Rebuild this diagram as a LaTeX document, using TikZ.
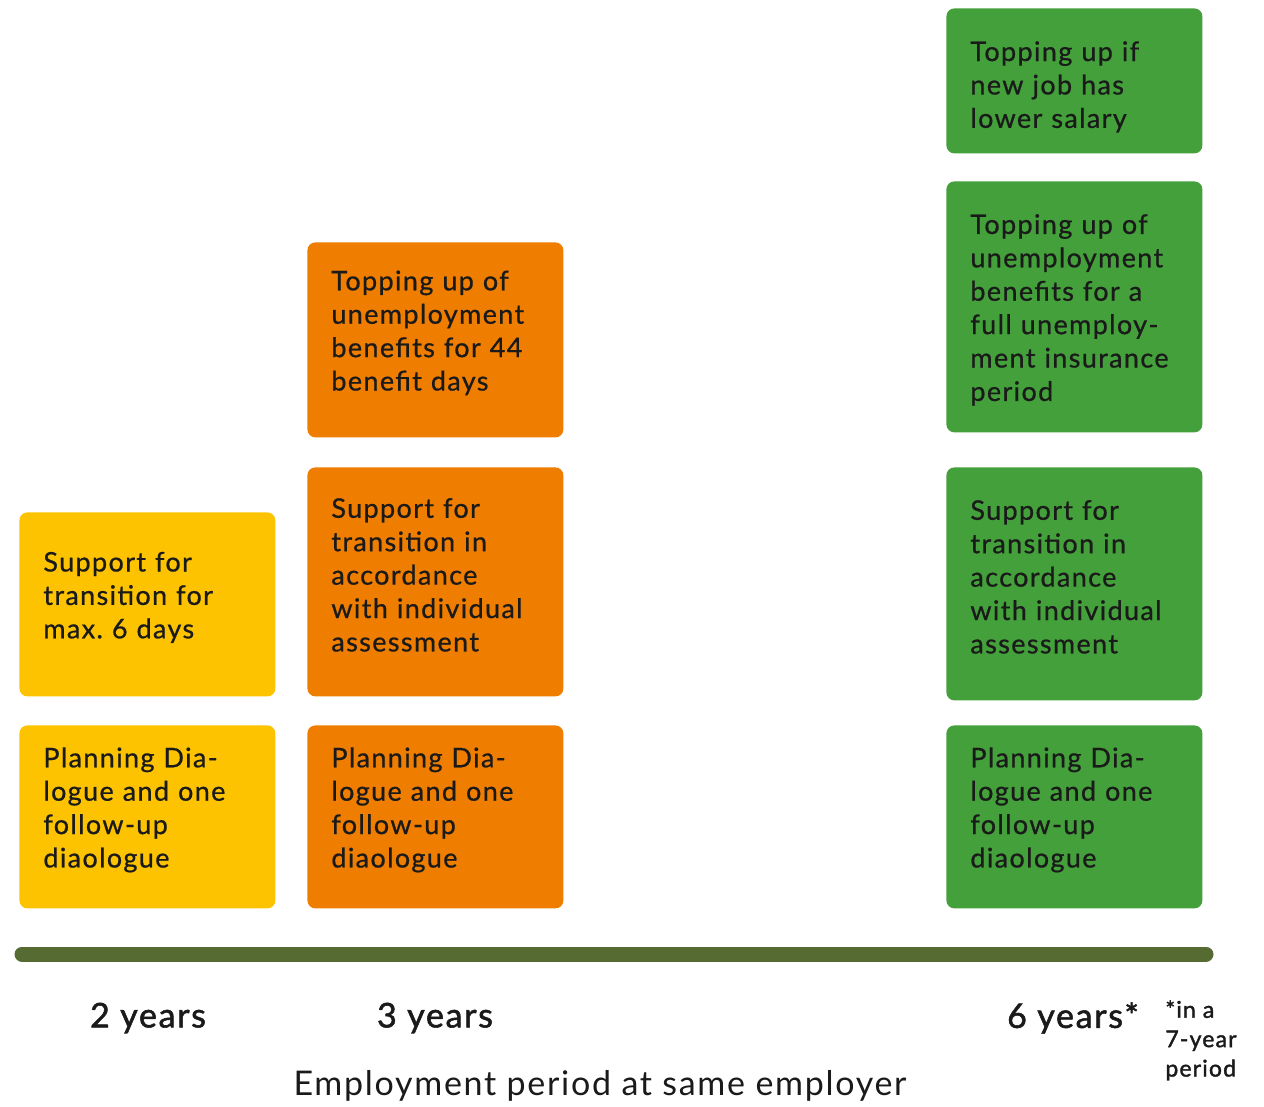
\documentclass[tikz,border=0pt]{standalone}
\usepackage{fontspec}
\setmainfont{Lato}
\newfontfamily\cellfont[FakeBold=0.7, LetterSpace=5]{Lato}
\newfontfamily\labelfont[FakeBold=1.6, LetterSpace=5]{Lato}
\newfontfamily\titlefont[LetterSpace=5]{Lato}
\usepackage{tikz}
\usepackage{xcolor}
\definecolor{sunyellow}{HTML}{FDC300}
\definecolor{deeporange}{HTML}{EF7D00}
\definecolor{leafgreen}{HTML}{43A03A}
\definecolor{barolive}{HTML}{556B31}
\definecolor{inkdark}{HTML}{1A1A1A}
\frenchspacing

\tikzset{
  padbottom/.store in=\cellpadlen, padbottom=7pt,
  cell/.style={rounded corners=4pt, anchor=north west, minimum width=128pt,
    text width=104pt, align=left, inner sep=0pt, text=inkdark,
    font=\cellfont\fontsize{13.5}{16.7}\selectfont,
    execute at end node={\par\vspace{\cellpadlen}}},
  yearlabel/.style={text=inkdark, font=\labelfont\fontsize{17}{20}\selectfont}
}

\begin{document}
\begin{tikzpicture}[x=0.5pt, y=-0.5pt]
\useasboundingbox (0,0) rectangle (1264,1107);

% 2 years
\node[cell, fill=sunyellow, minimum height=92pt] (twoSupport) at (19,512) {Support for\\transition for\\max. 6 days};
\node[cell, fill=sunyellow, minimum height=91.5pt] (twoPlan) at (19,725) {Planning Dia-\\logue and one\\follow-up\\diaologue};

% 3 years
\node[cell, fill=deeporange, minimum height=97.5pt] (threeTop) at (307,242) {Topping up of\\unemployment\\benefits for 44\\benefit days};
\node[cell, fill=deeporange, minimum height=114.5pt] (threeSupport) at (307,467) {Support for\\transition in\\accordance\\with individual\\assessment};
\node[cell, fill=deeporange, minimum height=91.5pt] (threePlan) at (307,725) {Planning Dia-\\logue and one\\follow-up\\diaologue};

% 6 years
\node[cell, fill=leafgreen, minimum height=72.5pt, padbottom=-6pt] (sixSalary) at (946,8) {Topping up if\\new job has\\lower salary};
\node[cell, fill=leafgreen, minimum height=125.5pt, padbottom=-3pt] (sixTop) at (946,181) {Topping up of\\unemployment\\benefits for a\\full unemploy-\\ment insurance\\period};
\node[cell, fill=leafgreen, minimum height=116.5pt] (sixSupport) at (946,467) {Support for\\transition in\\accordance\\with individual\\assessment};
\node[cell, fill=leafgreen, minimum height=91.5pt] (sixPlan) at (946,725) {Planning Dia-\\logue and one\\follow-up\\diaologue};

% Time bar
\coordinate (barStart) at (22,954);
\coordinate (barEnd) at (1206,954);
\draw[barolive, line width=7.5pt, line cap=round] (barStart) -- (barEnd);

% Labels
\node[yearlabel] (twoYears) at (148,1018) {2 years};
\node[yearlabel] (threeYears) at (435,1018) {3 years};
\node[yearlabel] (sixYears) at (1073,1018) {6 years*};
\node[anchor=north west, align=left, inner sep=0pt, text=inkdark, font=\labelfont\fontsize{11.5}{14.7}\selectfont] (footNote) at (1165,1000) {*in a\\7-year\\period};
\node[text=inkdark, font=\titlefont\fontsize{17}{20}\selectfont] (axisTitle) at (600,1086) {Employment period at same employer};
\end{tikzpicture}
\end{document}
